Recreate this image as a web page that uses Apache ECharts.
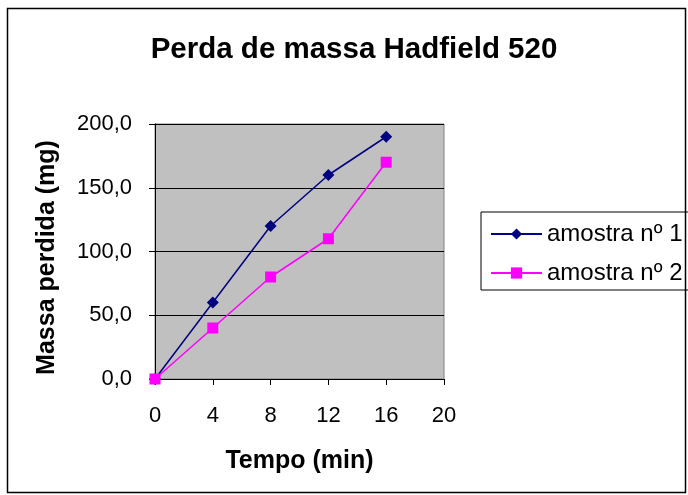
<!DOCTYPE html>
<html>
<head>
<meta charset="utf-8">
<script src="https://cdn.jsdelivr.net/npm/echarts@6/dist/echarts.min.js"></script>
<style>
  html, body { margin: 0; padding: 0; background: #fff; }
  #chart { width: 688px; height: 495px; }
</style>
</head>
<body>
<div id="chart"></div>
<script>
// Time points (min) and mass loss (mg) for each sample
const tempo = [0, 4, 8, 12, 16];
const amostra1 = [0, 60, 120, 160, 190];
const amostra2 = [0, 40, 80, 110, 170];
const seriesNames = ['amostra nº 1', 'amostra nº 2'];

const FONT = '"Liberation Sans", Arial, sans-serif';

const chart = echarts.init(document.getElementById('chart'));

chart.setOption({
  animation: false,
  backgroundColor: '#ffffff',
  textStyle: { fontFamily: FONT, color: '#000' },
  title: {
    text: 'Perda de massa Hadfield 520',
    left: 349,
    textAlign: 'center',
    top: 30,
    textStyle: { fontFamily: FONT, fontSize: 29.5, fontWeight: 'bold', color: '#000' }
  },
  graphic: [{
    type: 'rect',
    shape: { x: 7.5, y: 8.5, width: 678, height: 484 },
    style: { fill: 'none', stroke: '#000', lineWidth: 1.5 },
    silent: true,
    z: -1
  }],
  legend: {
    orient: 'vertical',
    left: 481,
    top: 212,
    itemWidth: 51,
    itemHeight: 14,
    itemGap: 15,
    padding: [10, 60, 5, 9],
    borderColor: '#000',
    borderWidth: 1,
    textStyle: { fontFamily: FONT, fontSize: 24, color: '#000' },
    data: seriesNames
  },
  grid: {
    left: 155,
    top: 124,
    width: 289,
    height: 255,
    show: true,
    backgroundColor: '#C0C0C0',
    borderColor: '#808080',
    borderWidth: 1
  },
  xAxis: {
    type: 'value',
    min: 0,
    max: 20,
    interval: 4,
    name: 'Tempo (min)',
    nameLocation: 'middle',
    nameGap: 70,
    nameTextStyle: { fontFamily: FONT, fontSize: 25, fontWeight: 'bold', color: '#000' },
    axisLine: { show: true, onZero: false, lineStyle: { color: '#000', width: 1 } },
    axisTick: { show: true, inside: false, length: 6, lineStyle: { color: '#000' } },
    axisLabel: { fontFamily: FONT, fontSize: 22, color: '#000', margin: 26 },
    splitLine: { show: false }
  },
  yAxis: {
    type: 'value',
    min: 0,
    max: 200,
    interval: 50,
    name: 'Massa perdida (mg)',
    nameLocation: 'middle',
    nameGap: 95,
    nameRotate: 90,
    nameTextStyle: {
      fontFamily: FONT, fontSize: 25, fontWeight: 'bold', color: '#000',
      padding: [0, 12, 0, 0]
    },
    axisLine: { show: true, lineStyle: { color: '#000', width: 1 } },
    axisTick: { show: true, inside: false, length: 6, lineStyle: { color: '#000' } },
    axisLabel: {
      fontFamily: FONT, fontSize: 22, color: '#000', margin: 23,
      formatter: v => v.toFixed(1).replace('.', ',')
    },
    splitLine: { show: true, lineStyle: { color: '#000', width: 1 } }
  },
  series: [
    {
      name: seriesNames[0],
      type: 'line',
      data: tempo.map((t, i) => [t, amostra1[i]]),
      symbol: 'diamond',
      symbolSize: 12,
      color: '#000080',
      lineStyle: { color: '#000080', width: 1.5 },
      itemStyle: { color: '#000080' },
      z: 3
    },
    {
      name: seriesNames[1],
      type: 'line',
      data: tempo.map((t, i) => [t, amostra2[i]]),
      symbol: 'rect',
      symbolSize: 11,
      color: '#FF00FF',
      lineStyle: { color: '#FF00FF', width: 1.5 },
      itemStyle: { color: '#FF00FF' },
      z: 4
    }
  ]
});
</script>
</body>
</html>
